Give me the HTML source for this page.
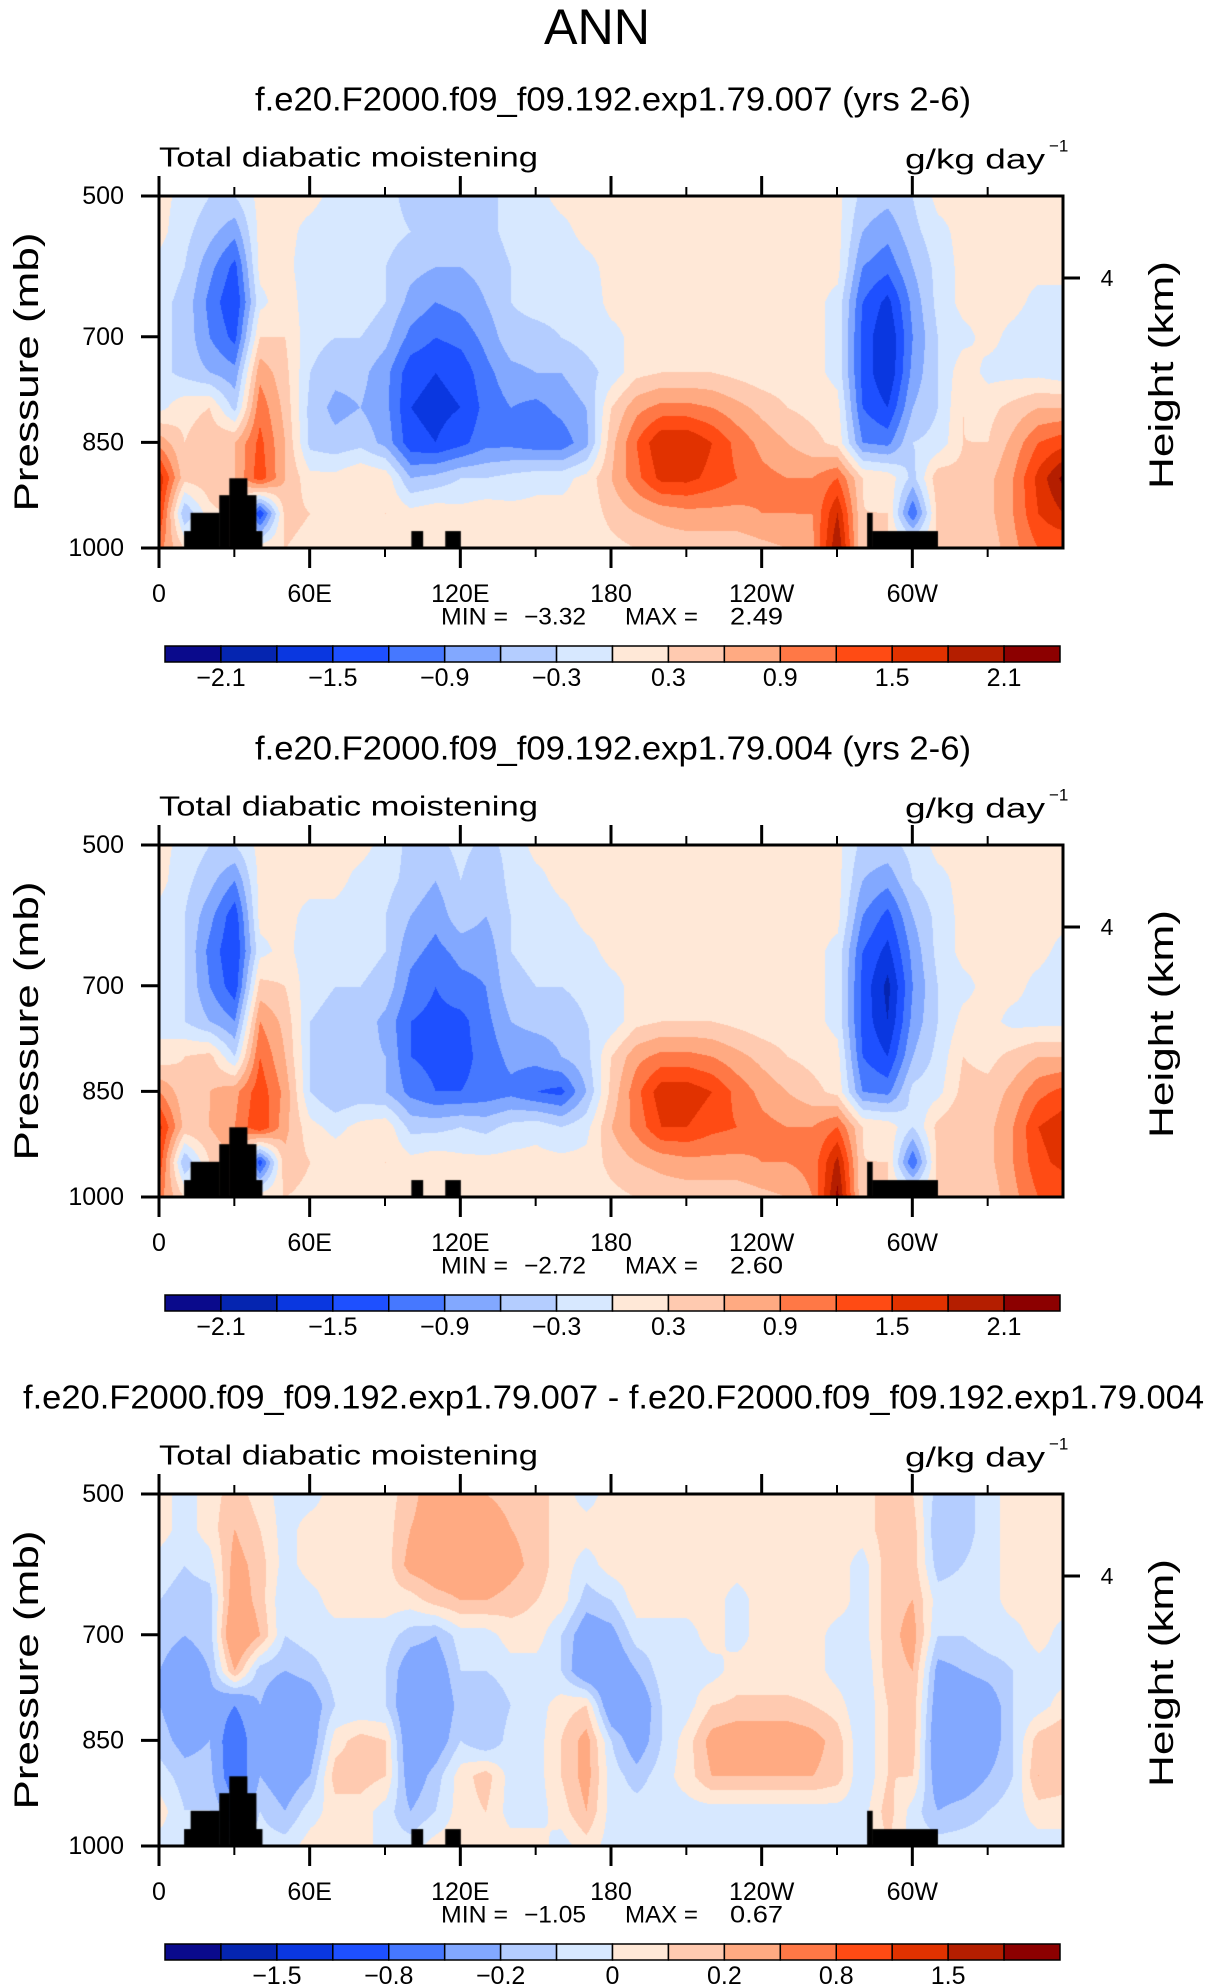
<!DOCTYPE html>
<html><head><meta charset="utf-8">
<style>
html,body{margin:0;padding:0;background:#fff;}
#wrap{position:relative;width:1206px;height:1987px;overflow:hidden;font-family:"Liberation Sans",sans-serif;}
canvas{position:absolute;left:159px;}
svg{position:absolute;left:0;top:0;}
</style></head>
<body>
<div id="wrap">
<canvas id="c0" width="904" height="352" style="top:196px"></canvas>
<canvas id="c1" width="904" height="352" style="top:845px"></canvas>
<canvas id="c2" width="904" height="352" style="top:1494px"></canvas>
<svg id="ov" width="1206" height="1987"></svg>
</div>
<script>
const lons=[0,10,20,30,40,50,60,70,80,90,100,110,120,130,140,150,160,170,180,190,200,210,220,230,240,250,260,270,280,290,300,310,320,330,340,350,360];
const pressures=[500,550,600,650,700,750,800,850,900,950,1000];
const field007=[
[0.1,-0.1,-0.3,-0.3,0.1,0.1,0.1,-0.1,-0.1,-0.2,-0.4,-0.3,-0.3,-0.4,-0.2,-0.1,0.1,0.1,0.1,0.1,0.1,0.1,0.1,0.1,0.1,0.1,0.1,0.1,-0.4,-0.5,-0.3,0.1,0.1,0.1,0.1,0.1,0.1],
[0.1,-0.2,-0.5,-0.8,0.1,0.1,-0.1,-0.2,-0.2,-0.2,-0.3,-0.5,-0.4,-0.4,-0.2,-0.2,-0.1,0.1,0.1,0.1,0.1,0.1,0.1,0.1,0.1,0.1,0.1,0.1,-0.6,-0.8,-0.4,-0.1,0.1,0.1,0.1,0.1,0.1],
[-0.1,-0.3,-0.8,-1.3,0.1,0.1,-0.2,-0.2,-0.2,-0.3,-0.5,-0.6,-0.6,-0.5,-0.3,-0.2,-0.2,-0.1,0.1,0.1,0.1,0.1,0.1,0.1,0.1,0.1,0.1,0.1,-0.9,-1.1,-0.6,-0.2,0.1,0.1,0.1,0.1,0.1],
[-0.2,-0.4,-1.0,-1.5,-0.1,0.2,-0.2,-0.2,-0.1,-0.3,-0.7,-0.9,-0.8,-0.6,-0.3,-0.2,-0.2,-0.2,0.1,0.1,0.1,0.1,0.1,0.1,0.1,0.1,0.1,-0.1,-1.2,-1.6,-0.8,-0.2,0.1,0.1,0.1,-0.1,-0.1],
[-0.2,-0.4,-0.9,-1.3,0.3,0.3,-0.2,-0.3,-0.3,-0.5,-1.0,-1.2,-1.1,-0.8,-0.4,-0.4,-0.3,-0.2,-0.1,0.1,0.1,0.1,0.1,0.1,0.1,0.1,0.1,-0.1,-1.3,-1.8,-0.9,-0.3,-0.1,0.1,-0.1,-0.2,-0.2],
[-0.2,-0.4,-0.6,-0.8,0.8,0.4,-0.3,-0.5,-0.5,-0.8,-1.4,-1.5,-1.4,-1.0,-0.7,-0.6,-0.6,-0.4,-0.2,0.2,0.3,0.3,0.3,0.2,0.1,0.1,0.1,-0.1,-1.3,-1.8,-0.8,-0.3,0.2,-0.1,-0.1,-0.1,-0.2],
[-0.1,0.2,0.3,-0.4,1.1,0.5,-0.4,-0.7,-0.6,-0.8,-1.5,-1.6,-1.5,-1.1,-0.9,-1.0,-0.8,-0.6,0.3,0.8,1.0,1.0,0.9,0.7,0.5,0.3,0.2,0.1,-1.2,-1.5,-0.6,-0.3,0.3,0.2,0.4,0.6,0.6],
[0.8,0.3,0.5,0.6,1.3,0.6,-0.4,-0.5,-0.4,-0.7,-1.4,-1.5,-1.3,-1.0,-1.0,-1.1,-1.1,-0.7,0.5,1.2,1.8,1.8,1.5,1.1,0.8,0.6,0.4,0.2,-0.9,-1.0,-0.3,-0.2,0.3,0.3,0.7,1.2,1.4],
[1.7,0.4,0.5,0.6,1.4,0.6,0.1,0.1,0.3,0.2,-0.6,-0.5,-0.3,-0.3,-0.2,-0.1,-0.1,0.1,0.6,1.1,1.6,1.6,1.4,1.2,1.0,0.9,0.9,1.2,0.3,0.2,-0.4,0.5,0.4,0.5,0.9,1.6,2.2],
[1.5,-0.6,0.2,0.4,-1.5,0.4,0.3,0.2,0.2,0.3,0.1,0.2,0.1,0.2,0.1,0.1,0.1,0.1,0.4,0.6,0.7,0.8,0.8,0.8,0.9,0.9,0.9,1.8,0.3,0.3,-1.2,0.4,0.5,0.5,0.9,1.5,1.8],
[1.0,0.3,0.3,0.3,0.2,0.3,0.2,0.2,0.2,0.2,0.2,0.1,0.2,0.1,0.1,0.1,0.1,0.1,0.2,0.3,0.4,0.4,0.4,0.4,0.5,0.6,0.8,2.1,0.3,0.3,0.2,0.3,0.3,0.4,0.8,1.2,1.2]];
const field004=[
[0.1,-0.1,-0.3,-0.3,0.1,0.1,0.1,0.1,0.1,-0.1,-0.4,-0.4,-0.2,-0.4,-0.2,0.1,0.1,0.1,0.1,0.1,0.1,0.1,0.1,0.1,0.1,0.1,0.1,0.1,-0.4,-0.4,-0.2,0.1,0.1,0.1,0.1,0.1,0.1],
[0.1,-0.2,-0.5,-0.9,0.1,0.1,0.1,0.1,-0.1,-0.2,-0.4,-0.6,-0.3,-0.6,-0.2,-0.1,0.1,0.1,0.1,0.1,0.1,0.1,0.1,0.1,0.1,0.1,0.1,0.1,-0.6,-0.8,-0.3,-0.1,0.1,0.1,0.1,0.1,0.1],
[-0.1,-0.3,-0.8,-1.4,0.1,0.1,-0.1,-0.1,-0.2,-0.3,-0.6,-0.8,-0.4,-0.6,-0.3,-0.2,-0.1,0.1,0.1,0.1,0.1,0.1,0.1,0.1,0.1,0.1,0.1,0.1,-0.9,-1.3,-0.6,-0.2,0.1,0.1,0.1,0.1,0.1],
[-0.1,-0.3,-1.0,-1.5,-0.1,0.1,-0.2,-0.2,-0.2,-0.3,-0.8,-1.0,-0.8,-0.8,-0.3,-0.2,-0.2,-0.1,0.1,0.1,0.1,0.1,0.1,0.1,0.1,0.1,0.1,-0.1,-1.2,-1.6,-0.8,-0.2,0.1,0.1,0.1,0.1,-0.1],
[-0.1,-0.3,-0.9,-1.4,0.4,0.3,-0.2,-0.3,-0.3,-0.4,-1.0,-1.2,-1.0,-0.9,-0.4,-0.3,-0.3,-0.2,-0.1,0.1,0.1,0.1,0.1,0.1,0.1,0.1,0.1,-0.1,-1.3,-1.9,-0.9,-0.3,-0.1,0.1,0.1,-0.1,-0.2],
[-0.1,-0.3,-0.6,-0.9,0.9,0.5,-0.3,-0.4,-0.4,-0.7,-1.2,-1.3,-1.3,-1.0,-0.6,-0.5,-0.5,-0.3,-0.2,0.2,0.3,0.3,0.3,0.2,0.1,0.1,0.1,-0.1,-1.3,-1.8,-0.8,-0.3,0.1,0.1,-0.1,-0.1,-0.1],
[0.1,0.3,0.4,-0.3,1.2,0.6,-0.3,-0.5,-0.5,-0.6,-1.2,-1.3,-1.3,-1.1,-0.8,-0.8,-0.6,-0.4,0.3,0.8,1.0,1.0,0.9,0.7,0.5,0.3,0.2,0.1,-1.2,-1.5,-0.6,-0.2,0.3,0.2,0.4,0.6,0.6],
[0.9,0.4,0.6,0.8,1.4,0.8,-0.3,-0.6,-0.5,-0.6,-1.0,-1.2,-1.2,-1.1,-1.0,-1.2,-1.3,-0.6,0.4,1.1,1.7,1.7,1.5,1.1,0.8,0.6,0.4,0.2,-0.9,-1.0,-0.2,-0.1,0.4,0.4,0.7,1.1,1.3],
[1.6,0.5,0.6,0.9,1.5,0.7,0.1,-0.1,0.1,0.2,-0.4,-0.4,-0.3,-0.4,-0.2,-0.1,-0.3,-0.1,0.6,1.0,1.5,1.5,1.3,1.2,1.0,0.9,0.9,1.2,0.3,0.2,-0.3,0.4,0.6,0.5,0.9,1.5,1.7],
[1.4,-0.6,0.3,0.6,-1.4,0.5,0.3,0.2,0.2,0.3,0.1,0.2,0.1,0.1,0.1,0.1,0.1,0.1,0.4,0.6,0.7,0.8,0.8,0.8,0.9,0.9,1.0,1.9,0.3,0.3,-1.2,0.4,0.6,0.5,0.9,1.4,1.6],
[1.0,0.3,0.3,0.3,0.2,0.3,0.2,0.2,0.2,0.2,0.2,0.1,0.2,0.1,0.1,0.1,0.1,0.1,0.2,0.3,0.4,0.4,0.4,0.4,0.5,0.6,0.9,2.2,0.3,0.3,0.2,0.3,0.3,0.4,0.8,1.2,1.2]];
const fieldDiff=[
[0.05,-0.05,0.05,0.15,0.05,-0.05,-0.05,0.05,0.05,0.05,0.15,0.3,0.25,0.2,0.15,0.15,0.05,-0.05,0.05,0.05,0.05,0.05,0.05,0.05,0.05,0.05,0.05,0.05,0.05,0.15,0.1,-0.15,-0.15,-0.05,0.05,0.05,0.05],
[0.05,-0.05,0.05,0.2,0.1,-0.05,0.05,0.05,0.05,0.05,0.2,0.3,0.3,0.3,0.2,0.15,0.05,0.05,0.05,0.05,0.05,0.05,0.05,0.05,0.05,0.05,0.05,0.05,0.05,0.15,0.15,-0.2,-0.15,-0.05,0.05,0.05,0.05],
[-0.05,-0.1,-0.05,0.25,0.15,-0.05,0.05,0.05,0.05,0.05,0.25,0.3,0.3,0.35,0.25,0.15,0.05,-0.05,0.05,0.05,0.05,0.05,0.05,0.05,0.05,0.05,0.05,0.05,-0.05,0.15,0.15,-0.15,-0.1,-0.05,0.05,0.05,0.05],
[-0.1,-0.15,-0.15,0.3,0.15,-0.1,-0.05,0.05,0.05,0.05,0.05,0.15,0.2,0.2,0.15,0.1,0.05,-0.15,-0.1,0.05,0.05,0.05,0.05,-0.05,0.05,0.05,0.05,0.05,-0.05,0.15,0.2,-0.05,-0.05,-0.05,0.05,0.05,0.05],
[-0.15,-0.2,-0.15,0.4,0.2,-0.1,-0.05,-0.05,-0.05,-0.05,-0.15,-0.2,-0.05,-0.05,0.05,0.05,-0.1,-0.3,-0.25,-0.05,-0.05,-0.05,0.05,-0.05,0.05,0.05,0.05,-0.05,-0.05,0.15,0.25,-0.1,-0.1,-0.05,-0.05,0.05,-0.05],
[-0.2,-0.3,-0.2,0.2,-0.15,-0.2,-0.15,-0.05,-0.1,-0.1,-0.3,-0.3,-0.1,-0.1,-0.05,-0.05,-0.1,-0.35,-0.35,-0.2,-0.05,-0.05,-0.05,0.05,0.05,0.05,0.05,-0.05,-0.1,0.15,0.2,-0.25,-0.2,-0.15,-0.1,-0.05,-0.05],
[-0.2,-0.3,-0.25,-0.4,-0.2,-0.35,-0.3,-0.1,-0.1,-0.1,-0.35,-0.35,-0.15,-0.2,-0.1,-0.05,0.05,0.1,-0.35,-0.35,-0.1,-0.05,0.1,0.12,0.12,0.12,0.1,0.05,-0.1,0.1,0.15,-0.3,-0.35,-0.3,-0.1,-0.05,0.05],
[-0.15,-0.25,-0.2,-0.6,-0.2,-0.35,-0.3,0.05,0.15,0.1,-0.35,-0.3,-0.1,-0.2,-0.05,-0.05,0.1,0.25,-0.1,-0.3,-0.1,0.05,0.25,0.3,0.3,0.3,0.25,0.15,-0.1,0.1,0.15,-0.35,-0.35,-0.3,-0.1,0.15,0.2],
[-0.05,-0.15,-0.15,-0.6,-0.2,-0.3,-0.2,0.15,0.15,0.1,-0.3,-0.15,0.05,0.15,-0.05,-0.05,0.1,0.25,-0.05,-0.15,-0.05,0.05,0.2,0.2,0.2,0.2,0.2,0.15,-0.1,0.1,0.1,-0.3,-0.3,-0.2,-0.1,0.2,0.15],
[0.05,-0.1,-0.1,-0.3,-0.1,-0.2,-0.05,0.05,0.05,-0.05,-0.2,-0.1,0.05,0.1,-0.05,-0.05,0.05,0.2,-0.05,-0.05,-0.05,-0.05,-0.05,-0.05,-0.05,-0.05,-0.05,-0.05,-0.05,0.15,-0.05,-0.2,-0.15,-0.1,-0.05,0.05,0.05],
[-0.05,-0.05,-0.05,-0.05,-0.05,-0.05,0.05,0.05,0.05,-0.05,-0.05,0.05,0.05,0.05,0.05,0.05,-0.05,0.05,-0.05,-0.05,-0.05,-0.05,-0.05,-0.05,-0.05,-0.05,-0.05,-0.05,-0.05,0.1,-0.05,-0.05,-0.05,-0.05,-0.05,-0.05,-0.05]];
const levelsFull=[-2.1,-1.8,-1.5,-1.2,-0.9,-0.6,-0.3,0,0.3,0.6,0.9,1.2,1.5,1.8,2.1];
const levelsDiff=[-2,-1.5,-1,-0.8,-0.4,-0.2,-0.1,0,0.1,0.2,0.4,0.8,1,1.5,2];
const cbLabelsFull=['-2.1','-1.5','-0.9','-0.3','0.3','0.9','1.5','2.1'];
const cbLabelsDiff=['-1.5','-0.8','-0.2','0','0.2','0.8','1.5'];
const minVals=['-3.32','-2.72','-1.05'];
const maxVals=['2.49','2.60','0.67'];
const topoLon0=[10,12.6,24,28,35,38.6,100.5,114,282,284];
const topoLon1=[12.6,24,28,35,38.6,41,105,120,284,310];
const topoP=[976,950,925,901,925,976,976,976,950,976];
const colors=['#0a0a8c','#0525b0','#0a37e0','#1e50ff','#4678ff','#82a8ff','#b4cdff','#d7e8ff','#ffe8d7','#ffcab0','#ffaa82','#ff7846','#ff4b14','#e13200','#b41e00','#8c0000'];

const PX0=159,PW=904,PH=352,PTOPS=[196,845,1494];
const xOf=l=>PX0+l/360*PW;
const yOf=(p,top)=>top+(p-500)/500*PH;

function sample(f,lon,p){
  let i=Math.min(lons.length-2,Math.floor(lon/10)),j=Math.min(pressures.length-2,Math.floor((p-500)/50));
  let fx=(lon-lons[i])/10,fy=(p-pressures[j])/50;
  const a=f[j][i],b=f[j][i+1],c=f[j+1][i],d=f[j+1][i+1];
  return a*(1-fx)*(1-fy)+b*fx*(1-fy)+c*(1-fx)*fy+d*fx*fy;
}
function lvl(v,L){v+=0.0013;let k=0;while(k<L.length&&v>=L[k])k++;return k;}
const rgb=colors.map(h=>[parseInt(h.substr(1,2),16),parseInt(h.substr(3,2),16),parseInt(h.substr(5,2),16)]);
function drawField(id,f,L){
  const cv=document.getElementById(id),ctx=cv.getContext('2d');
  const im=ctx.createImageData(PW,PH);
  for(let y=0;y<PH;y++){const p=500+y/PH*500;
    for(let x=0;x<PW;x++){const lon=x/PW*360;const c=rgb[lvl(sample(f,lon,p),L)];const o=(y*PW+x)*4;
      im.data[o]=c[0];im.data[o+1]=c[1];im.data[o+2]=c[2];im.data[o+3]=255;}}
  ctx.putImageData(im,0,0);
  ctx.fillStyle='#000';
  for(let k=0;k<topoP.length;k++){
    const x0=topoLon0[k]/360*PW,x1=topoLon1[k]/360*PW,y0=(topoP[k]-500)/500*PH;
    ctx.fillRect(x0,y0,x1-x0+0.5,PH-y0);
  }
}
drawField('c0',field007,levelsFull);
drawField('c1',field004,levelsFull);
drawField('c2',fieldDiff,levelsDiff);

const NS='http://www.w3.org/2000/svg';
const svg=document.getElementById('ov');
function T(txt,x,y,size,anchor,name,extra){
  const t=document.createElementNS(NS,'text');
  t.setAttribute('x',x);t.setAttribute('y',y);t.setAttribute('font-size',size);
  t.setAttribute('text-anchor',anchor||'start');t.setAttribute('dominant-baseline','central');
  t.setAttribute('font-family','Liberation Sans, sans-serif');
  if(extra)for(const k in extra)t.setAttribute(k,extra[k]);
  t.textContent=txt;
  
  
  svg.appendChild(t);return t;
}
function Ln(x1,y1,x2,y2,w,name){
  const l=document.createElementNS(NS,'line');
  l.setAttribute('x1',x1);l.setAttribute('y1',y1);l.setAttribute('x2',x2);l.setAttribute('y2',y2);
  l.setAttribute('stroke','#000');l.setAttribute('stroke-width',w);
  
  
  svg.appendChild(l);
}
T('ANN',597,27,50,'middle','main-title',{textLength:106,lengthAdjust:'spacingAndGlyphs'});
const titles=['f.e20.F2000.f09_f09.192.exp1.79.007 (yrs 2-6)','f.e20.F2000.f09_f09.192.exp1.79.004 (yrs 2-6)','f.e20.F2000.f09_f09.192.exp1.79.007 - f.e20.F2000.f09_f09.192.exp1.79.004'];
const xTickLabels=['0','60E','120E','180','120W','60W'];
const pTicks=[500,700,850,1000];
for(let k=0;k<3;k++){
  const top=PTOPS[k],bot=top+PH;
  if(k<2) T(titles[k],613,top-97,33,'middle','panel-title',{textLength:716,lengthAdjust:'spacingAndGlyphs'});
  else T(titles[k],23,top-97,33,'start','panel-title',{textLength:1181,lengthAdjust:'spacingAndGlyphs'});
  T('Total diabatic moistening',159,top-39,28,'start','variable-label',{textLength:379,lengthAdjust:'spacingAndGlyphs'});
  T('g/kg day',905,top-37,28,'start','units-label',{textLength:140,lengthAdjust:'spacingAndGlyphs'});
  T('−1',1049,top-50,17,'start','units-exponent');
  const r=document.createElementNS(NS,'rect');
  r.setAttribute('x',PX0);r.setAttribute('y',top);r.setAttribute('width',PW);r.setAttribute('height',PH);
  r.setAttribute('fill','none');r.setAttribute('stroke','#000');r.setAttribute('stroke-width',3);
  
  
  svg.appendChild(r);
  for(let l=0;l<=330;l+=30){
    const major=l%60===0,len=major?20:9,x=xOf(l);
    Ln(x,top,x,top-len,major?3:2,'top-tick');
    Ln(x,bot,x,bot+len,major?3:2,'bottom-tick');
    if(major) T(xTickLabels[l/60],x,bot+46,25,'middle','x-tick-label');
  }
  pTicks.forEach(p=>{const y=yOf(p,top);Ln(PX0,y,PX0-18,y,3,'y-tick');T(String(p),124,y,25,'end','y-tick-label');});
  const y4=top+82;Ln(1063,y4,1080,y4,3,'height-tick');T('4',1107,y4,23,'middle','height-tick-label');
  T('Pressure (mb)',27,top+176,34,'middle','y-axis-title',{transform:`rotate(-90 27 ${top+176})`,textLength:279,lengthAdjust:'spacingAndGlyphs'});
  T('Height (km)',1162,top+179,34,'middle','right-axis-title',{transform:`rotate(-90 1162 ${top+179})`,textLength:228,lengthAdjust:'spacingAndGlyphs'});
  T('MIN =',441,bot+69,24,'start','min-label',{textLength:67,lengthAdjust:'spacingAndGlyphs'});
  T(minVals[k].replace('-','−'),524,bot+69,24,'start','min-value',{textLength:62,lengthAdjust:'spacingAndGlyphs'});
  T('MAX =',625,bot+69,24,'start','max-label',{textLength:73,lengthAdjust:'spacingAndGlyphs'});
  T(maxVals[k],730,bot+69,24,'start','max-value',{textLength:53,lengthAdjust:'spacingAndGlyphs'});
  const cx0=165,cw=895/16,cy=bot+98;
  for(let i=0;i<16;i++){
    const b=document.createElementNS(NS,'rect');
    b.setAttribute('x',cx0+i*cw);b.setAttribute('y',cy);b.setAttribute('width',cw);b.setAttribute('height',16);
    b.setAttribute('fill',colors[i]);b.setAttribute('stroke','#000');b.setAttribute('stroke-width',1.5);
    
    
    svg.appendChild(b);
  }
  const labs=k<2?cbLabelsFull:cbLabelsDiff,start=k<2?1:2;
  labs.forEach((s,i)=>T(s.replace('-','−'),cx0+(start+2*i)*cw,cy+32,25,'middle','colorbar-label'));
}
</script>
</body></html>
